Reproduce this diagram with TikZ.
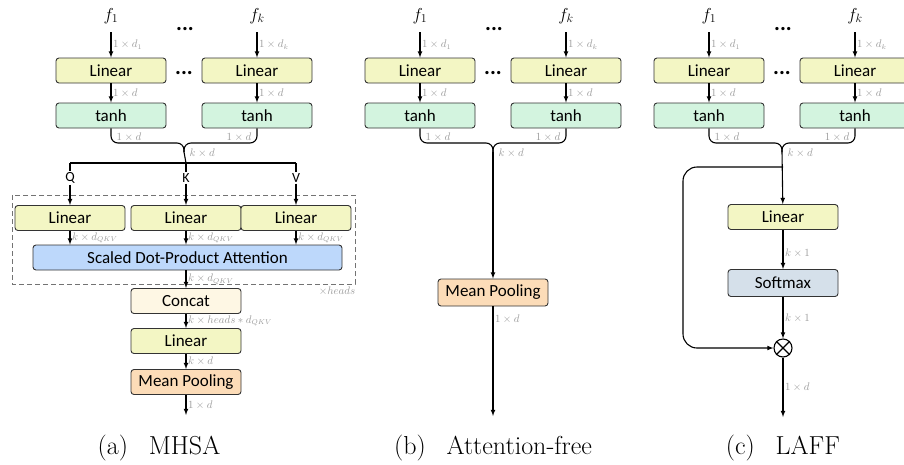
\documentclass[tikz,border=0pt]{standalone}
\usepackage{fontspec}
\newfontfamily\boxfont{Carlito}
\usetikzlibrary{positioning}
\usetikzlibrary{calc}
\usetikzlibrary{arrows}

\definecolor{linColor}{HTML}{F3F6C4}
\definecolor{tanColor}{HTML}{D3F4DF}
\definecolor{attColor}{HTML}{BDD8FB}
\definecolor{catColor}{HTML}{FEF7E4}
\definecolor{poolColor}{HTML}{FCDCB8}
\definecolor{softColor}{HTML}{D5E0EA}
\definecolor{lblColor}{HTML}{9A9A9A}

\tikzset{
  blk/.style={draw=black!80,line width=0.9pt,rounded corners=3pt,minimum width=110pt,
    minimum height=25pt,inner sep=0pt,font=\boxfont\fontsize{17}{19}\selectfont},
  lin/.style={blk,fill=linColor},
  tnh/.style={blk,fill=tanColor},
  wire/.style={line width=1.1pt},
  arr/.style={wire,->,>=latex},
  lbl/.style={text=lblColor,inner sep=1.5pt,font=\fontsize{10.5}{12}\selectfont},
  feat/.style={inner sep=0pt,font=\fontsize{17}{19}\selectfont},
  dots/.style={inner sep=0pt,font=\boxfont\bfseries\fontsize{22}{22}\selectfont},
  qkv/.style={fill=white,inner sep=1pt,font=\boxfont\fontsize{14}{15}\selectfont},
  capt/.style={anchor=base,inner sep=0pt,font=\fontsize{26}{30}\selectfont}
}

\begin{document}
\begin{tikzpicture}[x=1pt,y=-1pt]
\path[use as bounding box] (0,0) rectangle (904,464);
\clip (0,0) rectangle (904,464);

% shared top part of the three panels
\foreach \p/\cx in {a/111,b/420,c/709}{
  \node[feat] (f\p1) at (\cx,16) {$f_1$};
  \node[feat] (f\p2) at (\cx+146,16) {$f_k$};
  \node[dots,anchor=base] (d\p1) at (\cx+74,30) {...};
  \node[lin] (lin\p1) at (\cx,70.5) {Linear};
  \node[lin] (lin\p2) at (\cx+146,70.5) {Linear};
  \node[dots,anchor=base] (d\p2) at (\cx+73,74) {...};
  \node[tnh] (tan\p1) at (\cx,115.5) {tanh};
  \node[tnh] (tan\p2) at (\cx+146,115.5) {tanh};
  \coordinate (mrg\p) at (\cx+73,143);
  \coordinate (bot\p) at (\cx+73,152);

  \draw[arr] (f\p1) ++(0,16) -- node[lbl,right] {$1\times d_1$} (lin\p1);
  \draw[arr] (f\p2) ++(0,16) -- node[lbl,right] {$1\times d_k$} (lin\p2);
  \draw[arr] (lin\p1) -- node[lbl,right] {$1\times d$} (tan\p1);
  \draw[arr] (lin\p2) -- node[lbl,right] {$1\times d$} (tan\p2);
  \draw[wire,rounded corners=7pt] (tan\p1.south) |- (mrg\p) -- (bot\p);
  \draw[wire,rounded corners=7pt] (tan\p2.south) |- (mrg\p) -- (bot\p);
  \node[lbl,anchor=west] at ([shift={(4,9)}]tan\p1.south) {$1\times d$};
  \node[lbl,anchor=east] at ([shift={(-4,9)}]tan\p2.south) {$1\times d$};
  \node[lbl,anchor=west] at ([shift={(4,1)}]bot\p) {$k\times d$};
}

% (a) MHSA
\coordinate (bar) at (186,163);
\draw[wire] (bota) -- (bar);
\node[qkv] (qq) at (70,178) {Q};
\node[qkv] (kk) at (186,178) {K};
\node[qkv] (vv) at (296,178) {V};
\draw[line width=1.8pt] (qq |- bar) -- (vv |- bar);
\draw[wire] (qq |- bar) -- (qq);
\draw[wire] (kk |- bar) -- (kk);
\draw[wire] (vv |- bar) -- (vv);
\draw[dashed,dash pattern=on 5pt off 3pt,draw=black!55,line width=0.9pt] (12,195) rectangle (355,284);
\node[lin] (lq) at (70,218) {Linear};
\node[lin] (lk) at (186,218) {Linear};
\node[lin] (lv) at (296,218) {Linear};
\draw[arr] (qq) -- (lq);
\draw[arr] (kk) -- (lk);
\draw[arr] (vv) -- (lv);
\node[blk,fill=attColor,minimum width=309pt] (sdpa) at (187.5,257.5) {Scaled Dot-Product Attention};
\draw[arr] (lq) -- node[lbl,right] {$k\times d_{QKV}$} (lq |- sdpa.north);
\draw[arr] (lk) -- node[lbl,right] {$k\times d_{QKV}$} (lk |- sdpa.north);
\draw[arr] (lv) -- node[lbl,right] {$k\times d_{QKV}$} (lv |- sdpa.north);
\node[lbl,anchor=east] (hds) at (357,291) {$\times heads$};
\node[blk,fill=catColor] (cat) at (186,301) {Concat};
\draw[arr] (sdpa.south -| cat) -- node[lbl,right] {$k\times d_{QKV}$} (cat);
\node[lin] (lo) at (186,341) {Linear};
\draw[arr] (cat) -- node[lbl,right] {$k\times heads*d_{QKV}$} (lo);
\node[blk,fill=poolColor] (mpa) at (186,382) {Mean Pooling};
\draw[arr] (lo) -- node[lbl,right] {$k\times d$} (mpa);
\coordinate (outa) at (186,415);
\draw[arr] (mpa) -- node[lbl,right] {$1\times d$} (outa);
\node[capt] (capa) at (159,454) {(a)\hspace{0.8em}MHSA};

% (b) Attention-free
\node[blk,fill=poolColor,minimum height=27pt] (mpb) at (493,292.5) {Mean Pooling};
\draw[arr] (botb) -- (mpb.north -| botb);
\coordinate (outb) at (493,416);
\draw[arr] (mpb) -- node[lbl,right,pos=0.12] {$1\times d$} (outb);
\node[capt] (capb) at (493,454) {(b)\hspace{0.8em}Attention-free};

% (c) LAFF
\node[lin] (lc) at (783,217) {Linear};
\node[blk,fill=softColor,minimum height=27pt] (smx) at (783,283) {Softmax};
\node[circle,draw,line width=1.1pt,minimum size=18pt,inner sep=0pt] (ot) at (783,348) {};
\draw[line width=1.1pt] (ot.north west) -- (ot.south east) (ot.north east) -- (ot.south west);
\coordinate (brc) at (783,167);
\coordinate (lft) at (683,167);
\draw[arr] (botc) -- (lc);
\draw[arr,rounded corners=14pt] (brc) -- (lft) |- (ot.west);
\draw[arr] (lc) -- node[lbl,right,pos=0.6] {$k\times 1$} (smx);
\draw[arr] (smx) -- node[lbl,right] {$k\times 1$} (ot);
\coordinate (outc) at (783,417);
\draw[arr] (ot) -- node[lbl,right] {$1\times d$} (outc);
\node[capt] (capc) at (783,454) {(c)\hspace{0.8em}LAFF};
\end{tikzpicture}
\end{document}
